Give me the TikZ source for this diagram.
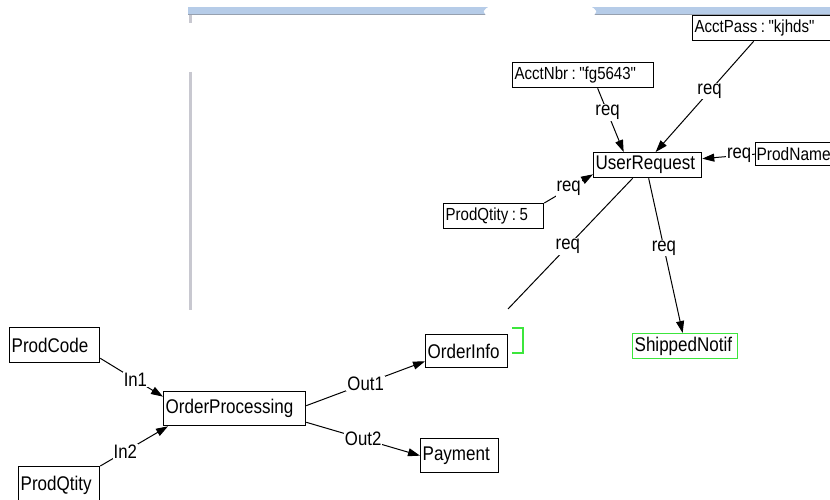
\documentclass[tikz,border=0pt]{standalone}
\usepackage{fontspec}
\newfontfamily\diagfont[FakeStretch=0.86]{Liberation Sans}
\usetikzlibrary{arrows.meta}
\definecolor{barblue}{RGB}{182,204,232}
\definecolor{bargray}{RGB}{150,160,175}
\definecolor{sidegray}{RGB}{200,200,208}
\definecolor{selgreen}{RGB}{60,230,60}
\begin{document}
\begin{tikzpicture}[x=1pt,y=-1pt,
  box/.style={draw, line width=1.3pt, anchor=north west, inner xsep=2pt, inner ysep=0pt, align=left, font=\diagfont\fontsize{19.8}{22}\selectfont},
  small/.style={font=\diagfont\fontsize{17.5}{20}\selectfont},
  lbl/.style={fill=white, inner sep=1pt, font=\diagfont\fontsize{19.5}{22}\selectfont},
  conn/.style={line width=1pt},
  arr/.style={conn, -{Triangle[length=12pt,width=8pt]}}]
\useasboundingbox (0,0) rectangle (830,500);
\clip (0,0) rectangle (830,500);
% window decorations
\fill[barblue] (188,7) rectangle (830,14);
\draw[bargray, line width=1pt] (188,14.5) -- (830,14.5);
\fill[white, rounded corners=6pt] (483,16) -- (485,6.5) -- (595,6.5) -- (597,16) -- cycle;
\draw[sidegray, line width=3pt] (190,15) -- (190,23);
\draw[sidegray, line width=3pt] (190,72) -- (190,310);
% nodes
\node[box, small, minimum width=148pt, minimum height=25pt, text width=144pt] (accp) at (692,15) {AcctPass\hspace{3.5pt}:\hspace{3.5pt}"kjhds"};
\node[box, small, minimum width=141pt, minimum height=25pt, text width=137pt] (accn) at (512,62) {AcctNbr\hspace{3.5pt}:\hspace{3.5pt}"fg5643"};
\node[box, minimum width=108pt, minimum height=25pt, text width=104pt] (ureq) at (593,152) {UserRequest};
\node[box, font=\diagfont\fontsize{18}{20}\selectfont, inner xsep=1pt, minimum width=95pt, minimum height=23pt, text width=93pt] (pname) at (755,142) {ProdName};
\node[box, small, minimum width=100pt, minimum height=25pt, text width=96pt] (pq5) at (443,203) {ProdQtity\hspace{3.5pt}:\hspace{3.5pt}5};
\node[box, draw=selgreen, minimum width=105pt, minimum height=25pt, text width=101pt] (snot) at (632,333) {ShippedNotif};
\node[box, minimum width=82pt, minimum height=33pt, text width=78pt] (oinfo) at (425,334) {OrderInfo};
\node[box, minimum width=78pt, minimum height=34pt, text width=74pt] (pay) at (420,438) {Payment};
\node[box, minimum width=142pt, minimum height=34pt, text width=138pt] (oproc) at (163,391) {OrderProcessing};
\node[box, minimum width=90pt, minimum height=35pt, text width=86pt] (pcode) at (9,327) {ProdCode};
\node[box, minimum width=81pt, minimum height=38pt, text width=77pt] (pqty) at (18,466) {ProdQtity};
\coordinate (cut) at (508,309);
% selection bracket
\draw[selgreen, line width=1.3pt] (512,328) -- (523,328) -- (523,353) -- (512,353);
% connectors
\draw[arr] ([xshift=-13pt]accp.south) -- node[lbl, pos=0.45]{req} ([xshift=8pt]ureq.north);
\draw[arr] ([xshift=14.5pt]accn.south) -- node[lbl, pos=0.38]{req} ([xshift=-24pt]ureq.north);
\draw[arr] (pname.west) -- node[lbl, pos=0.3]{req} ([yshift=6.5pt]ureq.east);
\draw[arr] (pq5.north east) -- node[lbl, pos=0.5]{req} ([yshift=4pt]ureq.south west);
\draw[conn] ([xshift=-15pt]ureq.south) -- node[lbl, pos=0.52]{req} (cut);
\draw[arr] ([xshift=1pt]ureq.south) -- node[lbl, pos=0.45]{req} ([xshift=-2.5pt]snot.north);
\draw[arr] ([yshift=5pt]pcode.south east) -- node[lbl, pos=0.56]{In1} ([yshift=12pt]oproc.west);
\draw[arr] (pqty.north east) -- node[lbl, pos=0.37]{In2} ([xshift=5pt]oproc.south west);
\draw[arr] ([yshift=3pt]oproc.east) -- node[lbl, pos=0.5]{Out1} ([yshift=7pt]oinfo.south west);
\draw[arr] ([yshift=4pt]oproc.south east) -- node[lbl, pos=0.5]{Out2} (pay.west);
\end{tikzpicture}
\end{document}
